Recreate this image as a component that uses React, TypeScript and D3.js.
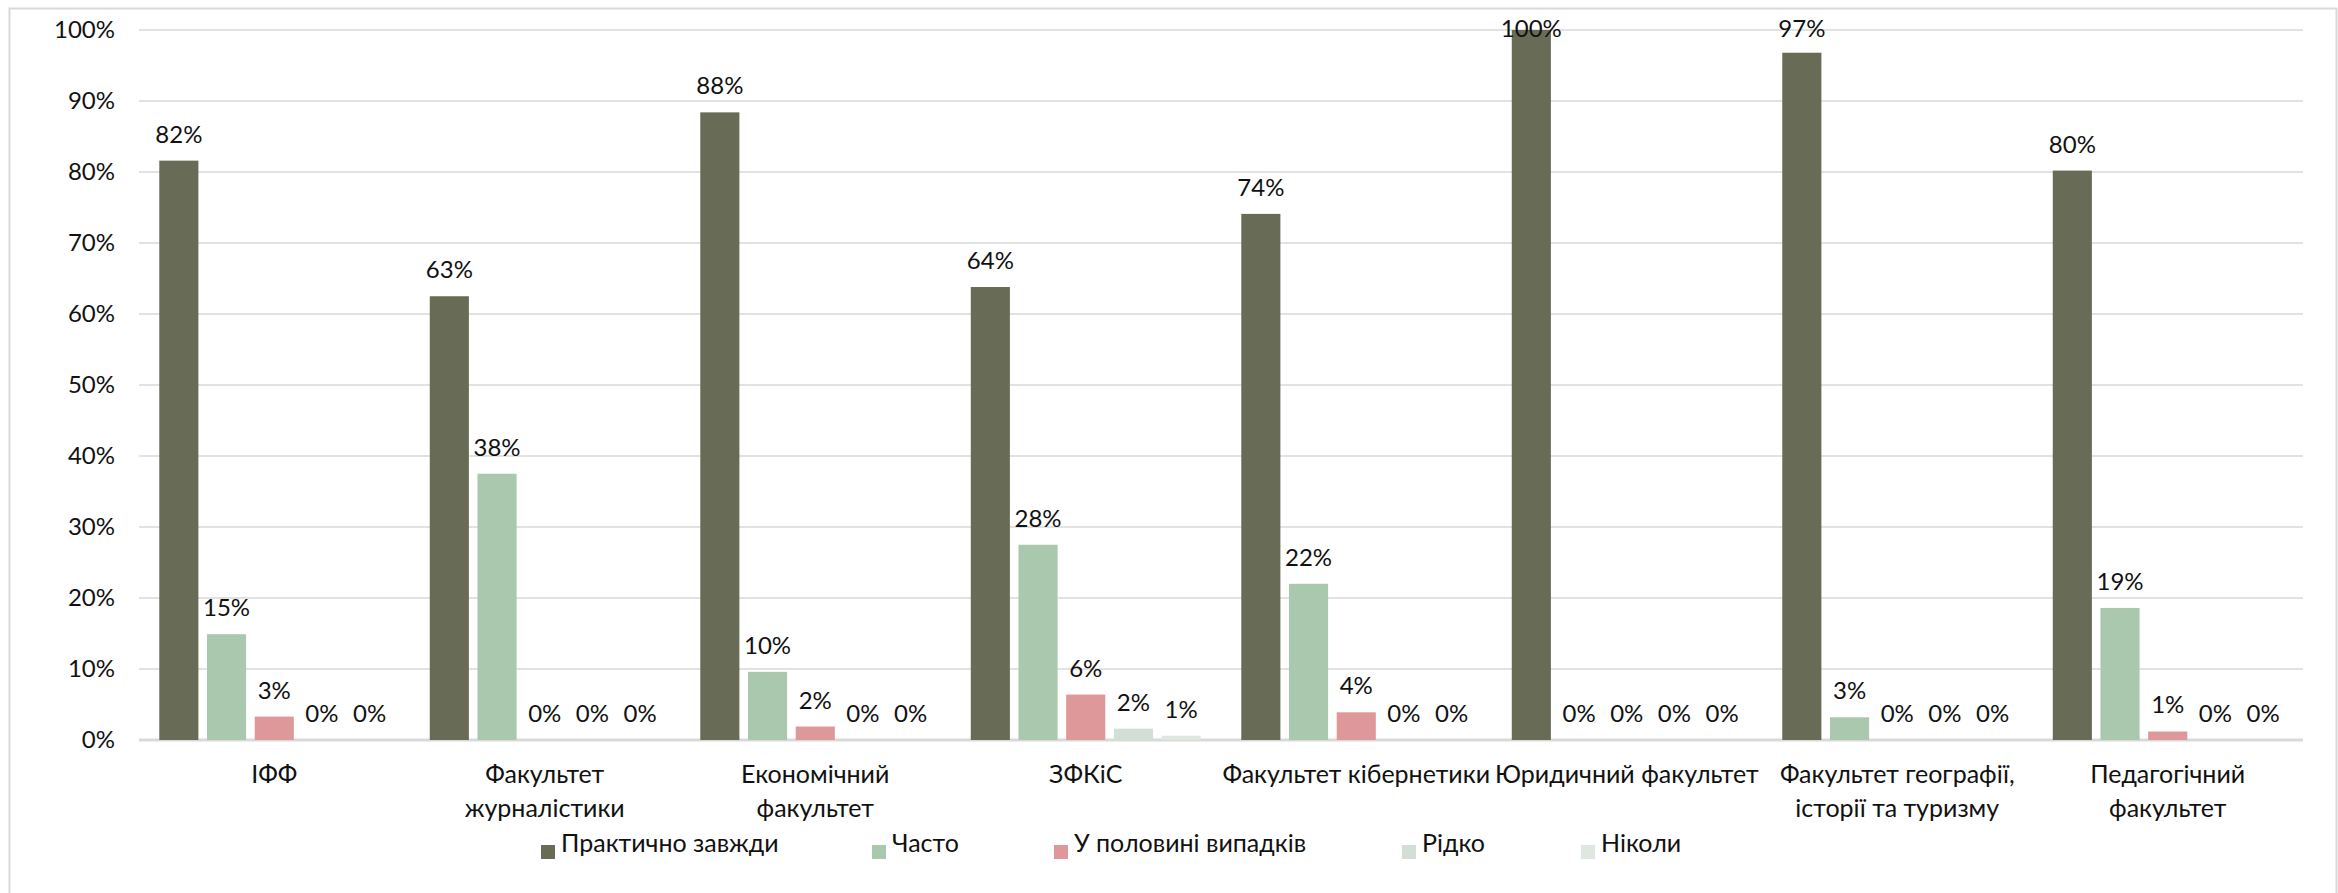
import React from "react";
import * as d3 from "d3";

const categories = [
  "ІФФ",
  "Факультет журналістики",
  "Економічний факультет",
  "ЗФКіС",
  "Факультет кібернетики",
  "Юридичний факультет",
  "Факультет географії, історії та туризму",
  "Педагогічний факультет",
];

const categoryLines = [
  ["ІФФ"],
  ["Факультет", "журналістики"],
  ["Економічний", "факультет"],
  ["ЗФКіС"],
  ["Факультет кібернетики"],
  ["Юридичний факультет"],
  ["Факультет географії,", "історії та туризму"],
  ["Педагогічний", "факультет"],
];

const seriesNames = ["Практично завжди", "Часто", "У половині випадків", "Рідко", "Ніколи"];

const practicallyAlways = [81.6, 62.5, 88.4, 63.8, 74.1, 100, 96.8, 80.2];
const often = [14.9, 37.5, 9.6, 27.5, 22.0, 0, 3.2, 18.6];
const halfCases = [3.3, 0, 1.9, 6.4, 3.9, 0, 0, 1.2];
const rarely = [0, 0, 0, 1.6, 0, 0, 0, 0];
const never = [0, 0, 0, 0.6, 0, 0, 0, 0];

const seriesValues = [practicallyAlways, often, halfCases, rarely, never];

const yTicks = [0, 10, 20, 30, 40, 50, 60, 70, 80, 90, 100];

const colors = ["#686C56", "#AAC8AE", "#DE9899", "#D3DFD6", "#DEE8E0"];

const W = 2338;
const H = 893;
const FONT = "Lato, 'Open Sans', sans-serif";

export default function App() {
  const left = 139;
  const right = 2303;
  const top = 30;
  const bottom = 740;

  const x0 = d3.scaleBand<string>().domain(categories).range([left, right]).paddingInner(0).paddingOuter(0);
  const x1 = d3
    .scaleBand<string>()
    .domain(seriesNames)
    .range([0, x0.bandwidth()])
    .paddingInner(0.18)
    .paddingOuter(0.425);
  const y = d3.scaleLinear().domain([0, 100]).range([bottom, top]);

  const legendX = [541, 872, 1054, 1402, 1581];

  return (
    <svg
      width={W}
      height={H}
      viewBox={`0 0 ${W} ${H}`}
      style={{ position: "absolute", left: 0, top: 0, background: "#fff" }}
      fontFamily={FONT}
    >
      <rect x={0} y={0} width={W} height={H} fill="#fff" />
      <rect x={9.5} y={8.5} width={2327} height={895} fill="none" stroke="#D9D9D9" strokeWidth={2} />

      {/* gridlines */}
      {yTicks.map((t) => (
        <line
          key={"g" + t}
          x1={left}
          x2={right}
          y1={y(t)}
          y2={y(t)}
          stroke="#D9D9D9"
          strokeWidth={t === 0 ? 3 : 1.5}
        />
      ))}
      {/* y labels */}
      {yTicks.map((t) => (
        <text key={"yl" + t} x={115} y={y(t) + 8} textAnchor="end" fontSize={24} fill="#111">
          {t}%
        </text>
      ))}

      {/* bars */}
      {categories.map((c, ci) => (
        <g key={c} transform={`translate(${x0(c)},0)`}>
          {seriesNames.map((s, si) => {
            const v = seriesValues[si][ci];
            const bx = x1(s) as number;
            const bw = x1.bandwidth();
            const by = y(v);
            const ly = Math.max(by - 18, 37);
            return (
              <g key={s}>
                {v > 0 && <rect x={bx} y={by} width={bw} height={bottom - by} fill={colors[si]} />}
                <text x={bx + bw / 2} y={ly} textAnchor="middle" fontSize={24} fill="#111">
                  {Math.round(v)}%
                </text>
              </g>
            );
          })}
        </g>
      ))}

      {/* x labels */}
      {categories.map((c, ci) => (
        <text
          key={"xl" + c}
          x={(x0(c) as number) + x0.bandwidth() / 2}
          textAnchor="middle"
          fontSize={25}
          fill="#111"
        >
          {categoryLines[ci].map((ln, li) => (
            <tspan key={li} x={(x0(c) as number) + x0.bandwidth() / 2} y={783 + li * 34}>
              {ln}
            </tspan>
          ))}
        </text>
      ))}

      {/* legend */}
      {seriesNames.map((s, si) => (
        <g key={"lg" + s}>
          <rect x={legendX[si]} y={845} width={14} height={14} fill={colors[si]} />
          <text x={legendX[si] + 20} y={852} fontSize={25} fill="#111">
            {s}
          </text>
        </g>
      ))}
    </svg>
  );
}
